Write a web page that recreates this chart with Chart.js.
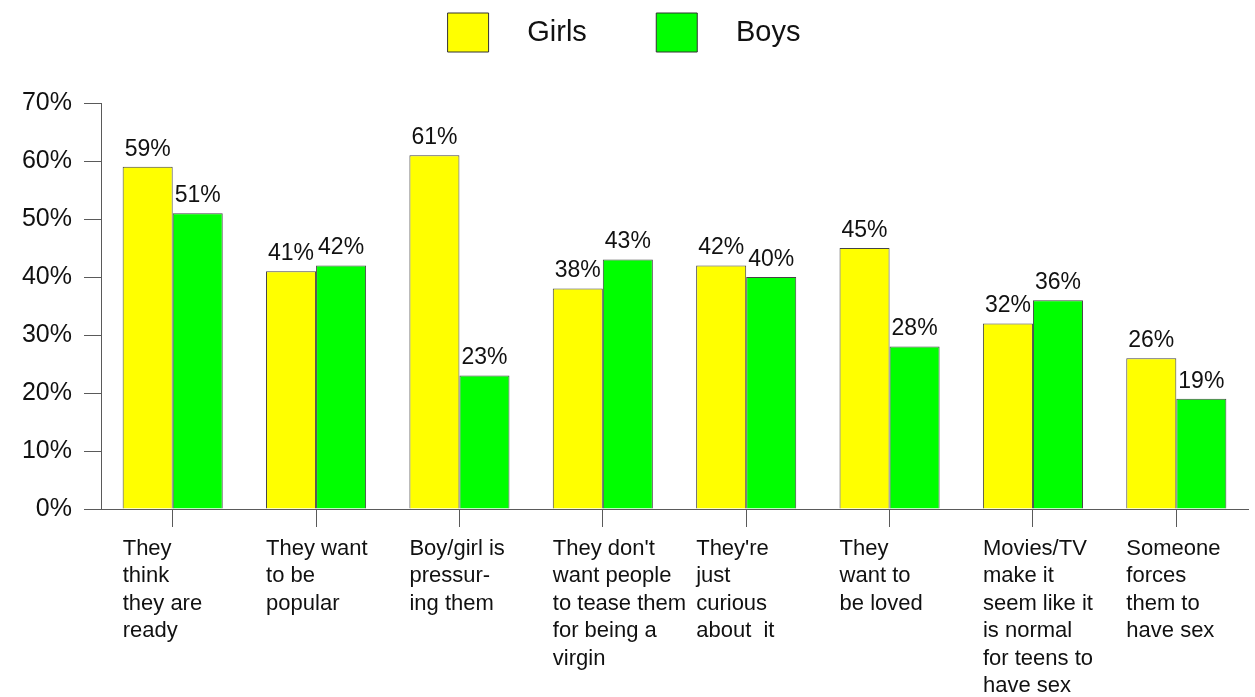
<!DOCTYPE html>
<html lang="en-US">
<head>
    <meta charset="utf-8">
    <title>Why teens have sex</title>
    <script src="https://cdn.jsdelivr.net/npm/chart.js@4/dist/chart.umd.min.js"></script>
    <style>
        html, body { margin: 0; padding: 0; background: #fff; }
        #holder { width: 1255px; height: 697px; }
    </style>
</head>
<body>
    <div id="holder"><canvas id="chart"></canvas></div>

<script>
    // data
    const categories = [
        ['They', 'think', 'they are', 'ready'],
        ['They want', 'to be', 'popular'],
        ['Boy/girl is', 'pressur-', 'ing them'],
        ["They don't", 'want people', 'to tease them', 'for being a', 'virgin'],
        ["They're", 'just', 'curious', 'about  it'],
        ['They', 'want to', 'be loved'],
        ['Movies/TV', 'make it', 'seem like it', 'is normal', 'for teens to', 'have sex'],
        ['Someone', 'forces', 'them to', 'have sex']
    ];
    const girls = [59, 41, 61, 38, 42, 45, 32, 26];
    const boys = [51, 42, 23, 43, 40, 28, 36, 19];
    const yTicks = [0, 10, 20, 30, 40, 50, 60, 70];

    const FONT = "'Liberation Sans', Arial, sans-serif";
    const axisColor = '#5a5a5a';

    // percent labels on top of the bars
    const valueLabels = {
        id: 'valueLabels',
        afterDatasetsDraw(chart) {
            const ctx = chart.ctx;
            ctx.save();
            ctx.font = '23px ' + FONT;
            ctx.fillStyle = '#111';
            ctx.textAlign = 'center';
            ctx.textBaseline = 'bottom';
            chart.data.datasets.forEach((ds, i) => {
                chart.getDatasetMeta(i).data.forEach((bar, j) => {
                    ctx.fillText(ds.data[j] + '%', bar.x, bar.y - 6);
                });
            });
            ctx.restore();
        }
    };

    // make the legend block taller so the plot starts lower
    const legendSpace = {
        id: 'legendSpace',
        beforeLayout(chart) {
            const lg = chart.legend;
            if (lg && !lg._tall) {
                const fit = lg.fit;
                lg.fit = function () {
                    fit.call(this);
                    this.height = 103;
                };
                lg._tall = true;
            }
        }
    };

    const config = {
        type: 'bar',
        data: {
            labels: categories,
            datasets: [{
                label: 'Girls',
                data: girls,
                backgroundColor: '#ffff00',
                borderColor: '#444',
                borderWidth: 1,
                categoryPercentage: 0.698,
                barPercentage: 1
            }, {
                label: 'Boys',
                data: boys,
                backgroundColor: '#00ff00',
                borderColor: '#444',
                borderWidth: 1,
                categoryPercentage: 0.698,
                barPercentage: 1
            }]
        },
        options: {
            responsive: true,
            maintainAspectRatio: false,
            animation: false,
            layout: { padding: { top: 0, right: 7, left: 0, bottom: 0 } },
            plugins: {
                tooltip: { enabled: false },
                legend: {
                    position: 'top',
                    labels: {
                        boxWidth: 41,
                        boxHeight: 39,
                        padding: 13,
                        color: '#111',
                        font: { family: FONT, size: 29 },
                        generateLabels(chart) {
                            const items = Chart.defaults.plugins.legend.labels.generateLabels(chart);
                            items.forEach((it, i) => {
                                it.text = '   ' + it.text + (i === 0 ? '       ' : '');
                                it.strokeStyle = '#333';
                                it.lineWidth = 1;
                            });
                            return items;
                        }
                    }
                }
            },
            scales: {
                x: {
                    grid: {
                        display: true,
                        drawOnChartArea: false,
                        offset: false,
                        tickLength: 18,
                        color: axisColor
                    },
                    border: { display: true, color: axisColor },
                    ticks: {
                        align: 'start',
                        labelOffset: -50,
                        padding: 8,
                        maxRotation: 0,
                        autoSkip: false,
                        color: '#111',
                        font: { family: FONT, size: 22, lineHeight: '27.5px' }
                    },
                    afterFit(scale) {
                        scale.height = 188;
                        scale.paddingRight = 0;
                        scale.paddingLeft = 0;
                    }
                },
                y: {
                    min: 0,
                    max: 70,
                    grid: {
                        display: true,
                        drawOnChartArea: false,
                        tickLength: 17,
                        color: axisColor
                    },
                    border: { display: true, color: axisColor },
                    afterBuildTicks(scale) {
                        scale.ticks = yTicks.map(v => ({ value: v }));
                    },
                    ticks: {
                        padding: 12,
                        color: '#111',
                        font: { family: FONT, size: 25 },
                        callback: v => v + '%'
                    },
                    afterFit(scale) {
                        scale.width = 101;
                    }
                }
            }
        },
        plugins: [valueLabels, legendSpace]
    };

    new Chart(document.getElementById('chart'), config);
</script>
</body>
</html>
